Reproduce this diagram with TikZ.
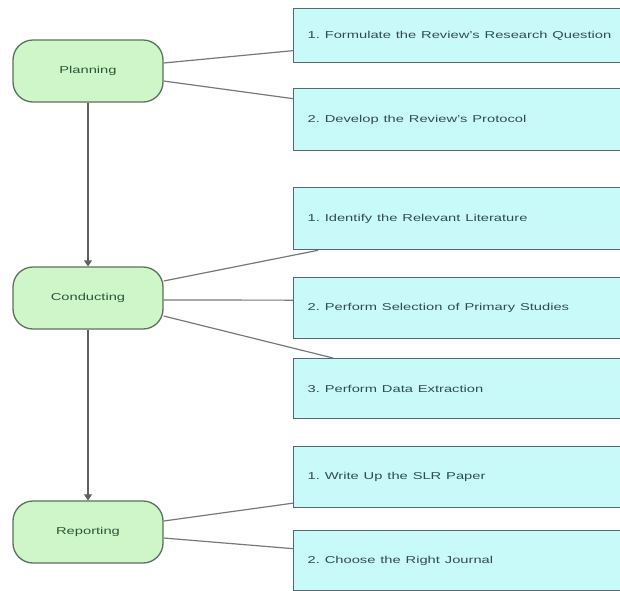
\documentclass[tikz,border=0pt]{standalone}
\usepackage{fontspec}
\setmainfont{Liberation Sans}
\usetikzlibrary{arrows.meta}
\frenchspacing
\definecolor{phasefill}{RGB}{206,246,200}
\definecolor{phaseline}{RGB}{90,115,95}
\definecolor{stepfill}{RGB}{200,250,250}
\definecolor{stepline}{RGB}{85,105,110}
\definecolor{steptext}{RGB}{50,75,80}
\definecolor{phasetext}{RGB}{45,85,55}
\definecolor{conn}{RGB}{120,120,120}
\newcommand{\wide}[1]{\scalebox{1.47}[1]{#1}}
\tikzset{
  phase/.style={draw=phaseline, fill=phasefill, line width=1.3pt, rounded corners=20pt,
    minimum width=150pt, minimum height=62pt, inner sep=0pt,
    font=\fontsize{10pt}{12pt}\selectfont, text=phasetext},
  stepbox/.style={draw=stepline, fill=stepfill, line width=1.3pt, anchor=north west,
    minimum width=347pt, inner xsep=14pt, inner ysep=0pt, text width=319pt, align=left,
    font=\fontsize{10pt}{12pt}\selectfont, text=steptext},
  conn/.style={draw=conn, line width=1.2pt},
  flow/.style={draw=conn!80!black, line width=1.3pt, -{Triangle[length=6pt,width=8pt]}}
}
\begin{document}
\begin{tikzpicture}[x=1pt,y=-1pt]
\clip (0,0) rectangle (620,590);
\fill[white] (0,0) rectangle (620,590);

\node[phase] (plan) at (88,71) {\wide{Planning}};
\node[phase] (cond) at (88,298) {\wide{Conducting}};
\node[phase] (rep) at (88,532) {\wide{Reporting}};

\node[stepbox, minimum height=54pt] (p1) at (293,8) {\wide{1. Formulate the Review's Research Question}};
\node[stepbox, minimum height=62pt] (p2) at (293,88) {\wide{2. Develop the Review's Protocol}};
\node[stepbox, minimum height=62pt] (c1) at (293,187) {\wide{1. Identify the Relevant Literature}};
\node[stepbox, minimum height=61pt] (c2) at (293,277) {\wide{2. Perform Selection of Primary Studies}};
\node[stepbox, minimum height=60pt] (c3) at (293,358) {\wide{3. Perform Data Extraction}};
\node[stepbox, minimum height=61pt] (r1) at (293,446) {\wide{1. Write Up the SLR Paper}};
\node[stepbox, minimum height=60pt] (r2) at (293,530) {\wide{2. Choose the Right Journal}};

\draw[flow] (plan.south) -- (cond.north);
\draw[flow] (cond.south) -- (rep.north);

\draw[conn] ([yshift=8pt]plan.east) -- ([yshift=-15pt]p1.west);
\draw[conn] ([yshift=-10pt]plan.east) -- ([yshift=21pt]p2.west);

\draw[conn] ([yshift=17pt]cond.east) -- ([xshift=25pt]c1.south west);
\draw[conn] ([yshift=-2pt]cond.east) -- ([yshift=8pt]c2.west);
\draw[conn] ([yshift=-18pt]cond.east) -- ([xshift=40pt]c3.north west);

\draw[conn] ([yshift=11pt]rep.east) -- ([yshift=-26pt]r1.west);
\draw[conn] ([yshift=-6pt]rep.east) -- ([yshift=12pt]r2.west);
\end{tikzpicture}
\end{document}
